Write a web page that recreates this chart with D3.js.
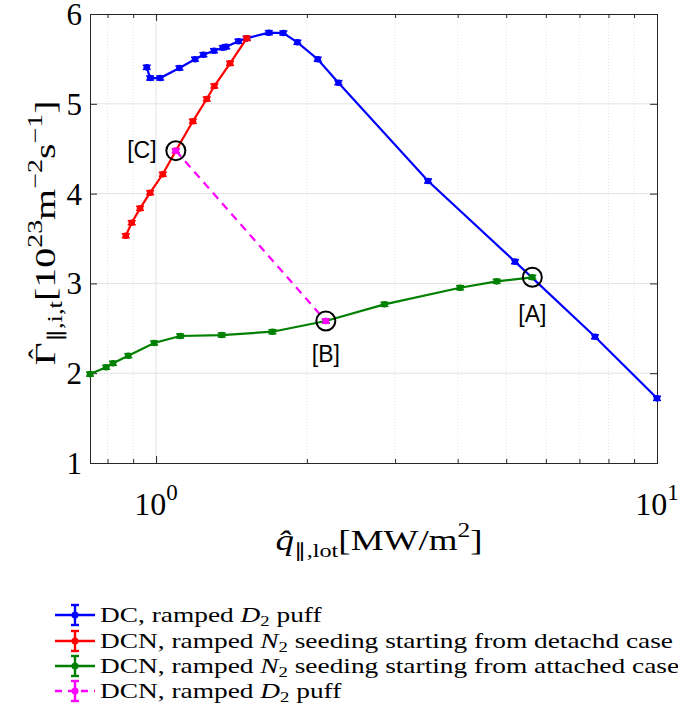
<!DOCTYPE html>
<html><head><meta charset="utf-8">
<script src="https://cdn.jsdelivr.net/npm/d3@7"></script>
<style>body{margin:0;background:#fff}svg{display:block}</style>
</head><body><svg id="c" width="678" height="720"></svg>
<script>
// ---- data ----
const blueX = [0.958,0.973,1.019,1.113,1.196,1.243,1.305,1.359,1.380,1.460,1.517,1.679,1.795,1.915,2.102,2.312,3.491,5.206,7.52,10.0];
const blueY = [5.406,5.287,5.287,5.399,5.496,5.547,5.591,5.625,5.636,5.696,5.729,5.792,5.788,5.685,5.496,5.235,4.140,3.242,2.406,1.72];
const redX = [0.870,0.894,0.929,0.973,1.031,1.095,1.184,1.262,1.307,1.405,1.517];
const redY = [3.531,3.676,3.836,4.010,4.215,4.478,4.805,5.053,5.198,5.451,5.729];
const greenX = [0.738,0.795,0.820,0.880,0.991,1.117,1.352,1.707,2.182,2.856,4.045,4.786,5.638];
const greenY = [1.99,2.066,2.110,2.195,2.336,2.414,2.425,2.462,2.581,2.767,2.952,3.023,3.068];
const magX = [1.095,2.182];
const magY = [4.478,2.581];
const markLabels = ["[A]","[B]","[C]"];
const markX = [5.638,2.182,1.095];
const markY = [3.068,2.581,4.478];
const legendLabels = ["DC, ramped |D|2| puff","DCN, ramped |N|2| seeding starting from detachd case","DCN, ramped |N|2| seeding starting from attached case","DCN, ramped |D|2| puff"];
const yTicks = [1,2,3,4,5,6];
const xMajor = [1,10];
const xMinor = [0.8,0.9,2,3,4,5,6,7,8,9];

const series = [
  {x: blueX, y: blueY, color: "#0000ff", dash: null},
  {x: redX, y: redY, color: "#ff0000", dash: null},
  {x: greenX, y: greenY, color: "#008000", dash: null},
  {x: magX, y: magY, color: "#ff00ff", dash: "8,6"}
];

const svg = d3.select("#c");
const L = 90, R = 657, T = 14, B = 463;
const x = d3.scaleLog().domain([0.738, 10]).range([L, R]);
const y = d3.scaleLinear().domain([1, 6]).range([B, T]);
const SERIF = "Liberation Serif";
const SANS = "Liberation Sans";
const axisCol = "#262626";

// grid
const g = svg.append("g");
g.selectAll(".gy").data(yTicks.slice(1, -1)).enter().append("line")
  .attr("x1", L).attr("x2", R).attr("y1", d => y(d)).attr("y2", d => y(d))
  .attr("stroke", "#e3e3e3").attr("stroke-width", 1);
g.selectAll(".gx").data([1]).enter().append("line")
  .attr("x1", d => x(d)).attr("x2", d => x(d)).attr("y1", T).attr("y2", B)
  .attr("stroke", "#e3e3e3").attr("stroke-width", 1);
g.selectAll(".gxm").data(xMinor).enter().append("line")
  .attr("x1", d => x(d)).attr("x2", d => x(d)).attr("y1", T).attr("y2", B)
  .attr("stroke", "#e6e6e6").attr("stroke-width", 1).attr("stroke-dasharray", "1,2");

// axes box + ticks via d3 axes
const xb = svg.append("g").attr("transform", `translate(0,${B})`)
  .call(d3.axisBottom(x).tickValues(xMajor).tickSize(-7).tickFormat(""));
const xbm = svg.append("g").attr("transform", `translate(0,${B})`)
  .call(d3.axisBottom(x).tickValues(xMinor).tickSize(-4).tickFormat(""));
const xt = svg.append("g").attr("transform", `translate(0,${T})`)
  .call(d3.axisTop(x).tickValues(xMajor).tickSize(-7).tickFormat(""));
const xtm = svg.append("g").attr("transform", `translate(0,${T})`)
  .call(d3.axisTop(x).tickValues(xMinor).tickSize(-4).tickFormat(""));
const yl = svg.append("g").attr("transform", `translate(${L},0)`)
  .call(d3.axisLeft(y).tickValues(yTicks).tickSize(-7).tickPadding(8).tickFormat(d3.format("d")));
const yr = svg.append("g").attr("transform", `translate(${R},0)`)
  .call(d3.axisRight(y).tickValues(yTicks).tickSize(-7).tickFormat(""));
[xb, xbm, xt, xtm, yl, yr].forEach(a => {
  a.selectAll("path.domain").attr("stroke", axisCol).attr("stroke-width", 1);
  a.selectAll(".tick line").attr("stroke", axisCol).attr("stroke-width", 1);
});
yl.selectAll(".tick text").attr("font-family", SERIF).attr("font-size", 31).attr("fill", "#000").attr("dy", "0.34em");

// x tick labels 10^0, 10^1
xMajor.forEach((v, i) => {
  const t = svg.append("text").attr("x", x(v)).attr("y", 515).attr("text-anchor", "middle")
    .attr("font-family", SERIF).attr("font-size", 32).attr("fill", "#000");
  t.append("tspan").text("10");
  t.append("tspan").attr("font-size", 23).attr("dy", -15).text(String(i));
});

// data
const line = d3.line().x(d => x(d[0])).y(d => y(d[1]));
series.forEach(s => {
  const pts = s.x.map((v, i) => [v, s.y[i]]);
  svg.append("path").datum(pts).attr("d", line).attr("fill", "none")
    .attr("stroke", s.color).attr("stroke-width", 2.2)
    .attr("stroke-dasharray", s.dash);
  const mg = svg.append("g");
  mg.selectAll("circle").data(pts).enter().append("circle")
    .attr("cx", d => x(d[0])).attr("cy", d => y(d[1])).attr("r", 3.3).attr("fill", s.color);
  mg.selectAll("line.cap").data(pts.flatMap(p => [[p, -2], [p, 2]])).enter().append("line")
    .attr("x1", d => x(d[0][0]) - 4).attr("x2", d => x(d[0][0]) + 4)
    .attr("y1", d => y(d[0][1]) + d[1]).attr("y2", d => y(d[0][1]) + d[1])
    .attr("stroke", s.color).attr("stroke-width", 1.6);
});

// marker circles and labels
const labOff = [[0, 45], [0, 41], [-34, 7]];
markX.forEach((v, i) => {
  svg.append("circle").attr("cx", x(v)).attr("cy", y(markY[i])).attr("r", 9.5)
    .attr("fill", "none").attr("stroke", "#000").attr("stroke-width", 2);
  svg.append("text").attr("x", x(v) + labOff[i][0]).attr("y", y(markY[i]) + labOff[i][1])
    .attr("text-anchor", "middle").attr("font-family", SANS)
    .attr("font-size", 23).attr("fill", "#000").text(markLabels[i]);
});

// y label
const yg = svg.append("g").attr("transform", "translate(55,233) rotate(-90)");
const ylab = yg.append("text").attr("x", 0).attr("y", 0)
  .attr("text-anchor", "middle").attr("font-family", SERIF).attr("font-size", 30).attr("fill", "#000");
ylab.append("tspan").text("Γ");
ylab.append("tspan").attr("font-size", 20).attr("dy", 7).text("∥,i,t");
ylab.append("tspan").attr("dy", -7).text("[10");
ylab.append("tspan").attr("font-size", 21).attr("dy", -13).text("23");
ylab.append("tspan").attr("dy", 13).text("m");
ylab.append("tspan").attr("font-size", 21).attr("dy", -13).text("−2");
ylab.append("tspan").attr("dy", 13).text("s");
ylab.append("tspan").attr("font-size", 21).attr("dy", -13).text("−1");
ylab.append("tspan").attr("dy", 13).text("]");
ylab.attr("textLength", 265).attr("lengthAdjust", "spacingAndGlyphs");
{
  const e = ylab.node().getExtentOfChar(0);
  yg.append("text").attr("x", e.x + e.width / 2).attr("y", -6).attr("text-anchor", "middle")
    .attr("font-family", SERIF).attr("font-size", 30).attr("fill", "#000").text("ˆ");
}

// x label
const xlab = svg.append("text").attr("x", 379).attr("y", 550).attr("text-anchor", "middle")
  .attr("font-family", SERIF).attr("font-size", 29).attr("fill", "#000");
xlab.append("tspan").attr("font-style", "italic").text("q\u0302");
xlab.append("tspan").attr("font-size", 19).attr("dy", 7).text("∥,lot");
xlab.append("tspan").attr("dy", -7).text("[MW/m");
xlab.append("tspan").attr("font-size", 20).attr("dy", -13).text("2");
xlab.append("tspan").attr("dy", 13).text("]");
xlab.attr("textLength", 207).attr("lengthAdjust", "spacingAndGlyphs");

// legend
const rowY = [615, 641, 666, 691];
const legTexts = [];
series.forEach((s, i) => {
  const yy = rowY[i];
  const lg = svg.append("g");
  lg.append("line").attr("x1", 55).attr("x2", 95).attr("y1", yy).attr("y2", yy)
    .attr("stroke", s.color).attr("stroke-width", 2.6).attr("stroke-dasharray", s.dash ? "7,6" : null);
  lg.append("line").attr("x1", 75).attr("x2", 75).attr("y1", yy - 10).attr("y2", yy + 10)
    .attr("stroke", s.color).attr("stroke-width", 2.4);
  [-10, 10].forEach(o => lg.append("line").attr("x1", 71).attr("x2", 79).attr("y1", yy + o).attr("y2", yy + o)
    .attr("stroke", s.color).attr("stroke-width", 2.4));
  lg.append("circle").attr("cx", 75).attr("cy", yy).attr("r", 3.5).attr("fill", s.color);
  const parts = legendLabels[i].split("|");
  const t = lg.append("text").attr("x", 100).attr("y", yy + 7).attr("font-family", SERIF)
    .attr("font-size", 22).attr("fill", "#000");
  t.append("tspan").text(parts[0]);
  t.append("tspan").attr("font-style", "italic").text(parts[1]);
  t.append("tspan").attr("font-size", 15).attr("dy", 4).text(parts[2]);
  t.append("tspan").attr("dy", -4).text(parts[3]);
  legTexts.push(t);
});
// stretch legend text horizontally to the reference's wider typeface
{
  const k = 573 / legTexts[1].node().getComputedTextLength();
  legTexts.forEach(t => {
    const w = t.node().getComputedTextLength();
    t.attr("textLength", w * k).attr("lengthAdjust", "spacingAndGlyphs");
  });
}
</script>
</body></html>
